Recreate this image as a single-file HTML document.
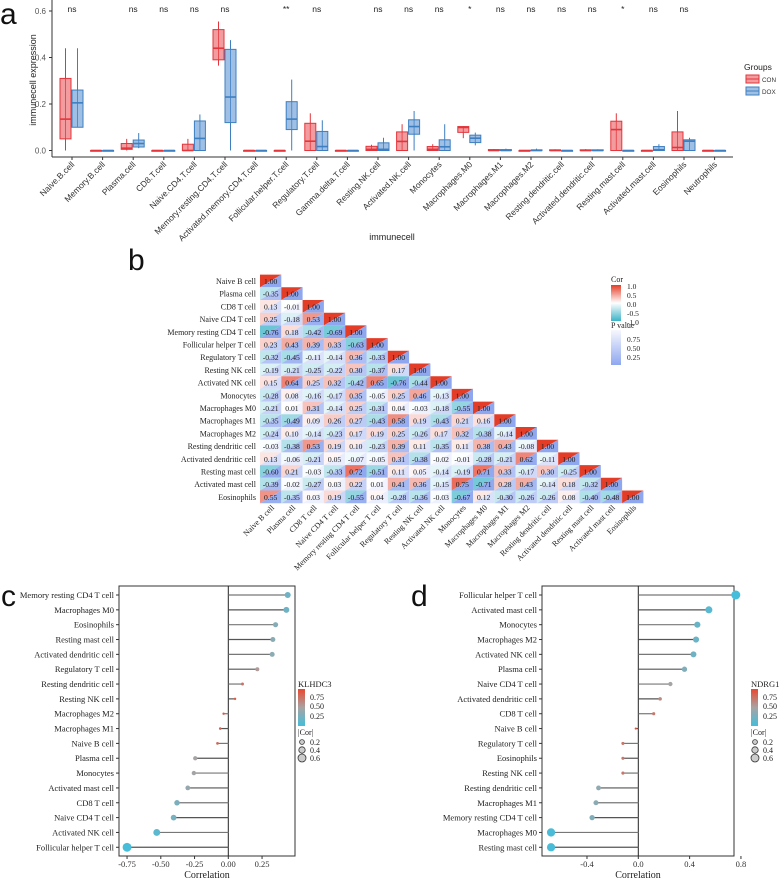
<!DOCTYPE html>
<html><head><meta charset="utf-8"><style>
html,body{margin:0;padding:0;background:#fff}
svg{display:block}
.sans{font-family:"Liberation Sans",sans-serif}
.serif{font-family:"Liberation Serif",serif}
</style></head><body>
<svg id="fig" width="779" height="879" viewBox="0 0 779 879" xmlns="http://www.w3.org/2000/svg">
<g id="pa"></g>
<g id="pb"></g>
<g id="pc"></g>
<g id="pd"></g>
</svg>
<script>
// ---------- Panel a data ----------
const aCategories=["Naive.B.cell","Memory.B.cell","Plasma.cell","CD8.T.cell","Naive.CD4.T.cell","Memory.resting.CD4.T.cell","Activated.memory.CD4.T.cell","Follicular.helper.T.cell","Regulatory.T.cell","Gamma.delta.T.cell","Resting.NK.cell","Activated.NK.cell","Monocytes","Macrophages.M0","Macrophages.M1","Macrophages.M2","Resting.dendritic.cell","Activated.dendritic.cell","Resting.mast.cell","Activated.mast.cell","Eosinophils","Neutrophils"];
// [low whisker, q1, median, q3, high whisker]
const aCON=[[0,.05,.135,.31,.44],[0,0,0,0,0],[0,.005,.01,.03,.05],[0,0,0,0,0],[0,0,0,.027,.05],[.365,.39,.44,.52,.555],[0,0,0,0,0],[0,0,0,0,0],[0,0,.04,.117,.16],[0,0,0,0,0],[0,0,.005,.018,.025],[0,0,.039,.08,.113],[0,0,.005,.017,.027],[.053,.078,.099,.103,.105],[0,0,0,.004,.006],[0,0,0,0,0],[0,0,0,.003,.005],[0,0,0,.003,.006],[0,0,.09,.126,.16],[0,0,0,0,0],[0,0,.013,.08,.17],[0,0,0,0,0]];
const aDOX=[[.1,.1,.205,.26,.44],[0,0,0,0,0],[.01,.015,.03,.045,.075],[0,0,0,0,0],[0,0,.052,.127,.155],[0,.12,.23,.435,.475],[0,0,0,0,0],[0,.09,.135,.21,.305],[0,0,.017,.082,.13],[0,0,0,0,0],[0,0,.005,.033,.055],[0,.07,.103,.132,.17],[0,0,.016,.046,.113],[.022,.034,.053,.066,.077],[0,0,0,.004,.008],[0,0,0,.003,.008],[0,0,0,0,.002],[0,0,0,.003,.005],[0,0,0,0,0],[0,0,.003,.017,.027],[0,0,.04,.046,.055],[0,0,0,0,0]];
const aSig=["ns","","ns","ns","ns","ns","","**","ns","","ns","ns","ns","*","ns","ns","ns","ns","*","ns","ns",""];
const aTicks=[0,0.2,0.4,0.6];

// ---------- Panel b data ----------
const bCells=["Naive B cell","Plasma cell","CD8 T cell","Naive CD4 T cell","Memory resting CD4 T cell","Follicular helper T cell","Regulatory T cell","Resting NK cell","Activated NK cell","Monocytes","Macrophages M0","Macrophages M1","Macrophages M2","Resting dendritic cell","Activated dendritic cell","Resting mast cell","Activated mast cell","Eosinophils"];
const bCor=[[],[-0.35],[0.13,-0.01],[0.25,-0.18,0.53],[-0.76,0.18,-0.42,-0.69],[0.23,0.43,0.39,0.33,-0.63],[-0.32,-0.45,-0.11,-0.14,0.36,-0.33],[-0.19,-0.21,-0.25,-0.22,0.30,-0.37,0.17],[0.15,0.64,0.25,0.32,-0.42,0.65,-0.76,-0.44],[-0.28,0.08,-0.16,-0.17,0.35,-0.05,0.25,0.46,-0.13],[-0.21,0.01,0.31,-0.14,0.25,-0.31,0.04,-0.03,-0.18,-0.55],[-0.35,-0.49,0.09,0.26,0.27,-0.43,0.58,0.19,-0.43,0.21,0.16],[-0.24,0.10,-0.14,-0.23,0.17,0.19,0.25,-0.26,0.17,0.32,-0.38,-0.14],[-0.03,-0.38,0.53,0.19,0.10,-0.23,0.39,0.11,-0.35,0.11,0.38,0.43,-0.08],[0.13,-0.06,-0.21,0.05,-0.07,-0.05,0.31,-0.38,-0.02,-0.01,-0.28,-0.21,0.62,-0.11],[-0.60,0.21,-0.03,-0.33,0.72,-0.51,0.11,0.05,-0.14,-0.19,0.71,0.33,-0.17,0.30,-0.25],[-0.39,-0.02,-0.27,0.03,0.22,0.01,0.41,0.36,-0.15,0.75,-0.71,0.28,0.43,-0.14,0.18,-0.32],[0.55,-0.35,0.03,0.19,-0.55,0.04,-0.28,-0.36,-0.03,-0.67,0.12,-0.30,-0.26,-0.26,0.08,-0.40,-0.48]];

// ---------- Panel c data ----------
const cLabels=["Memory resting CD4 T cell","Macrophages M0","Eosinophils","Resting mast cell","Activated dendritic cell","Regulatory T cell","Resting dendritic cell","Resting NK cell","Macrophages M2","Macrophages M1","Naive B cell","Plasma cell","Monocytes","Activated mast cell","CD8 T cell","Naive CD4 T cell","Activated NK cell","Follicular helper T cell"];
const cValues=[0.44,0.43,0.35,0.33,0.325,0.215,0.105,0.05,-0.035,-0.06,-0.08,-0.245,-0.255,-0.30,-0.38,-0.405,-0.53,-0.75];
const cTicks=[-0.75,-0.5,-0.25,0,0.25];

// ---------- Panel d data ----------
const dLabels=["Follicular helper T cell","Activated mast cell","Monocytes","Macrophages M2","Activated NK cell","Plasma cell","Naive CD4 T cell","Activated dendritic cell","CD8 T cell","Naive B cell","Regulatory T cell","Eosinophils","Resting NK cell","Resting dendritic cell","Macrophages M1","Memory resting CD4 T cell","Macrophages M0","Resting mast cell"];
const dValues=[0.76,0.55,0.46,0.45,0.43,0.36,0.25,0.17,0.12,-0.02,-0.12,-0.12,-0.12,-0.31,-0.33,-0.36,-0.68,-0.68];
const dTicks=[-0.4,0,0.4,0.8];

const NS="http://www.w3.org/2000/svg";
function mk(parent,tag,attrs,text){const e=document.createElementNS(NS,tag);for(const k in attrs)e.setAttribute(k,attrs[k]);if(text!==undefined)e.textContent=text;parent.appendChild(e);return e;}
function hex(c){return [parseInt(c.slice(1,3),16),parseInt(c.slice(3,5),16),parseInt(c.slice(5,7),16)];}
function mix(a,b,t){const A=hex(a),B=hex(b);return "rgb("+A.map((v,i)=>Math.round(v+(B[i]-v)*t)).join(",")+")";}
function pval(r){const a=Math.abs(r);if(a>=0.999)return 0;const df=8;const t=a*Math.sqrt(df)/Math.sqrt(1-a*a);const c=0.38669;const f=x=>c*Math.pow(1+x*x/df,-(df+1)/2);const n=200,h=t/n;let s=f(0)+f(t);for(let i=1;i<n;i++)s+=(i%2?4:2)*f(i*h);return Math.max(0,1-2*s*h/3);}

// ================= PANEL A =================
(function(){
const g=document.getElementById('pa');
const x0=72,dx=30.6,y0=150.5,yScale=232.5;
const X=i=>x0+i*dx, Y=v=>y0-v*yScale;
let t=mk(g,'text',{x:0,y:24,'font-size':30,class:'sans',fill:'#111'},'a');


let ax=mk(g,'line',{x1:52,y1:0,x2:52,y2:157,stroke:'#333','stroke-width':1});


let bx=mk(g,'line',{x1:52,y1:157,x2:733,y2:157,stroke:'#333','stroke-width':1});


aTicks.forEach(v=>{mk(g,'line',{x1:49,x2:52,y1:Y(v),y2:Y(v),stroke:'#333'});
 const l=mk(g,'text',{x:46,y:Y(v)+3,'font-size':8,'text-anchor':'end',class:'sans',fill:'#555'},v.toFixed(1));
 
 });
let yt=mk(g,'text',{x:0,y:0,'font-size':9,'text-anchor':'middle',class:'sans',fill:'#222',transform:'translate(36,80) rotate(-90)'},'immunecell expression');


let xt=mk(g,'text',{x:392,y:240,'font-size':9,'text-anchor':'middle',class:'sans',fill:'#222'},'immunecell');


function box(s,xl,col,fill,name){
 const w=11,xc=xl+w/2;
 const grp=mk(g,'g',{});
 
 
 mk(grp,'line',{x1:xc,x2:xc,y1:Y(s[4]),y2:Y(s[0]),stroke:col,'stroke-width':1});
 const h=Math.max(Y(s[1])-Y(s[3]),0.8);
 mk(grp,'rect',{x:xl,y:Y(s[3]),width:w,height:h,fill:fill,stroke:col,'stroke-width':1});
 mk(grp,'line',{x1:xl,x2:xl+w,y1:Y(s[2]),y2:Y(s[2]),stroke:col,'stroke-width':1.6});
}
aCategories.forEach((c,i)=>{
 const x=X(i);
 mk(g,'line',{x1:x,x2:x,y1:157,y2:160,stroke:'#333'});
 box(aCON[i],x-12,'#e3353b','rgba(235,90,95,0.6)','box-con-'+i);
 box(aDOX[i],x,'#3d7fc0','rgba(95,150,210,0.6)','box-dox-'+i);
 const l=mk(g,'text',{x:0,y:0,'font-size':8.5,'text-anchor':'end',class:'sans',fill:'#333',transform:`translate(${x+3},${165}) rotate(-45)`},c);
 
 
 if(aSig[i]){const s=mk(g,'text',{x:x,y:12,'font-size':8.5,'text-anchor':'middle',class:'sans',fill:'#222'},aSig[i]);
 
 }
});
const lg=mk(g,'g',{});


mk(lg,'text',{x:744,y:70,'font-size':8.5,class:'sans',fill:'#222'},'Groups');
mk(lg,'rect',{x:746,y:75,width:13,height:8,fill:'rgba(235,90,95,0.6)',stroke:'#e3353b'});
mk(lg,'line',{x1:746,x2:759,y1:79,y2:79,stroke:'#e3353b'});
mk(lg,'text',{x:762,y:82,'font-size':6.3,class:'sans',fill:'#333'},'CON');
mk(lg,'rect',{x:746,y:87,width:13,height:8,fill:'rgba(95,150,210,0.6)',stroke:'#3d7fc0'});
mk(lg,'line',{x1:746,x2:759,y1:91,y2:91,stroke:'#3d7fc0'});
mk(lg,'text',{x:762,y:94,'font-size':6.3,class:'sans',fill:'#333'},'DOX');
})();

// ================= PANEL B =================
(function(){
const g=document.getElementById('pb');
const cx0=260,cw=21.3,cy0=274.6,ch=12.7;
const corCol=r=>r>=0?mix('#ffffff','#e43d27',r):mix('#ffffff','#3cb3c8',-r);
const pCol=p=>mix('#8ea7ef','#f4f5fe',p);
let t=mk(g,'text',{x:128,y:270,'font-size':30,class:'sans',fill:'#111'},'b');


bCells.forEach((name,i)=>{
 const rl=mk(g,'text',{x:256,y:cy0+i*ch+ch/2+3,'font-size':8,'text-anchor':'end',class:'serif',fill:'#222'},name);
 
 
 const cl=mk(g,'text',{x:0,y:0,'font-size':8,'text-anchor':'end',class:'serif',fill:'#222',transform:`translate(${cx0+i*cw+cw/2+4},${cy0+18*ch+5}) rotate(-45)`},name);
 
 
 for(let j=0;j<=i;j++){
  const r=j===i?1:bCor[i][j];
  const x=cx0+j*cw,y=cy0+i*ch;
  const cg=mk(g,'g',{});
  
  
  mk(cg,'polygon',{points:`${x},${y} ${x+cw},${y} ${x},${y+ch}`,fill:corCol(r)});
  mk(cg,'polygon',{points:`${x+cw},${y} ${x+cw},${y+ch} ${x},${y+ch}`,fill:pCol(pval(r))});
  mk(cg,'text',{x:x+cw/2,y:y+ch/2+3,'font-size':7.6,'text-anchor':'middle',class:'serif',fill:'#1a1a1a'},r.toFixed(2));
 }
});
const lg=mk(g,'g',{});


const defs=mk(lg,'defs',{});
const gr=mk(defs,'linearGradient',{id:'gcor',x1:0,y1:0,x2:0,y2:1});
mk(gr,'stop',{offset:'0',"stop-color":'#e43d27'});mk(gr,'stop',{offset:'0.5',"stop-color":'#ffffff'});mk(gr,'stop',{offset:'1',"stop-color":'#3cb3c8'});
const gp=mk(defs,'linearGradient',{id:'gp',x1:0,y1:0,x2:0,y2:1});
mk(gp,'stop',{offset:'0',"stop-color":'#f6f7fe'});mk(gp,'stop',{offset:'1',"stop-color":'#8ea7ef'});
mk(lg,'text',{x:611,y:282,'font-size':8,class:'serif',fill:'#222'},'Cor');
mk(lg,'rect',{x:611,y:285,width:10,height:36,fill:'url(#gcor)'});
[['1.0',287],['0.5',296],['0.0',305],['-0.5',314],['-1.0',323]].forEach(a=>mk(lg,'text',{x:627,y:a[1]+2,'font-size':7.5,class:'serif',fill:'#222'},a[0]));
mk(lg,'text',{x:611,y:328,'font-size':8,class:'serif',fill:'#222'},'P value');
mk(lg,'rect',{x:611,y:330,width:10,height:35,fill:'url(#gp)'});
[['0.75',340],['0.50',349],['0.25',358]].forEach(a=>mk(lg,'text',{x:627,y:a[1]+2,'font-size':7.5,class:'serif',fill:'#222'},a[0]));
})();

// ================= PANELS C / D =================
function lolli(gid,labels,values,ticks,o){
 const g=document.getElementById(gid);
 const X=v=>o.zero+v*o.scale;
 const Y=i=>o.top+i*o.step;
 const pc=p=>p<0.5?mix('#44bedb','#a8a3a3',p/0.5):mix('#a8a3a3','#e8492f',(p-0.5)/0.5);
 let t=mk(g,'text',{x:o.lx,y:o.ly,'font-size':30,class:'sans',fill:'#111'},o.letter);
 
 
 const fr=mk(g,'rect',{x:o.left,y:586,width:o.right-o.left,height:270,fill:'none',stroke:'#333','stroke-width':1});
 
 
 const zl=mk(g,'line',{x1:X(0),x2:X(0),y1:586,y2:856,stroke:'#222','stroke-width':1});
 
 
 ticks.forEach(v=>{mk(g,'line',{x1:X(v),x2:X(v),y1:856,y2:859,stroke:'#333'});
  const l=mk(g,'text',{x:X(v),y:867,'font-size':8.5,'text-anchor':'middle',class:'serif',fill:'#333'},v.toFixed(o.dec));
  
  });
 const xt=mk(g,'text',{x:(o.left+o.right)/2,y:878,'font-size':10,'text-anchor':'middle',class:'serif',fill:'#222'},'Correlation');
 
 
 labels.forEach((lab,i)=>{
  const y=Y(i),v=values[i];
  mk(g,'line',{x1:o.left-3,x2:o.left,y1:y,y2:y,stroke:'#333'});
  const l=mk(g,'text',{x:o.left-5,y:y+3,'font-size':8.5,'text-anchor':'end',class:'serif',fill:'#222'},lab);
  
  
  const s=mk(g,'line',{x1:X(0),x2:X(v),y1:y,y2:y,stroke:i%2?'#555':'#777','stroke-width':1.2});
  
  
  const d=mk(g,'circle',{cx:X(v),cy:y,r:1+Math.abs(v)*4.6,fill:pc(pval(v))});
  
  
 });
 const lg=mk(g,'g',{});
 
 
 const defs=mk(lg,'defs',{});
 const gr=mk(defs,'linearGradient',{id:'g'+gid,x1:0,y1:0,x2:0,y2:1});
 mk(gr,'stop',{offset:'0',"stop-color":'#e8492f'});mk(gr,'stop',{offset:'0.5',"stop-color":'#a8a3a3'});mk(gr,'stop',{offset:'1',"stop-color":'#44bedb'});
 const L=o.legx;
 mk(lg,'text',{x:L,y:687,'font-size':8.5,class:'serif',fill:'#222'},o.gene);
 mk(lg,'rect',{x:L,y:689,width:7,height:37,fill:'url(#g'+gid+')'});
 [['0.75',697],['0.50',706],['0.25',716]].forEach(a=>mk(lg,'text',{x:L+12,y:a[1]+3,'font-size':8,class:'serif',fill:'#222'},a[0]));
 mk(lg,'text',{x:L,y:735,'font-size':8,class:'serif',fill:'#222'},'|Cor|');
 [[0.2,742],[0.4,750],[0.6,758]].forEach(a=>{mk(lg,'circle',{cx:L+4,cy:a[1],r:1.6+a[0]*4,fill:'#ccc',stroke:'#333','stroke-width':0.8});
  mk(lg,'text',{x:L+12,y:a[1]+3,'font-size':8,class:'serif',fill:'#222'},String(a[0]));});
}
lolli('pc',cLabels,cValues,cTicks,{zero:228.3,scale:135,left:119,right:295,top:595,step:14.84,dec:2,letter:'c',lx:1,ly:606,legx:298,gene:'KLHDC3'});
lolli('pd',dLabels,dValues,dTicks,{zero:638.3,scale:128.3,left:542,right:734,top:595,step:14.84,dec:1,letter:'d',lx:411,ly:606,legx:751,gene:'NDRG1'});
</script>
</body></html>
